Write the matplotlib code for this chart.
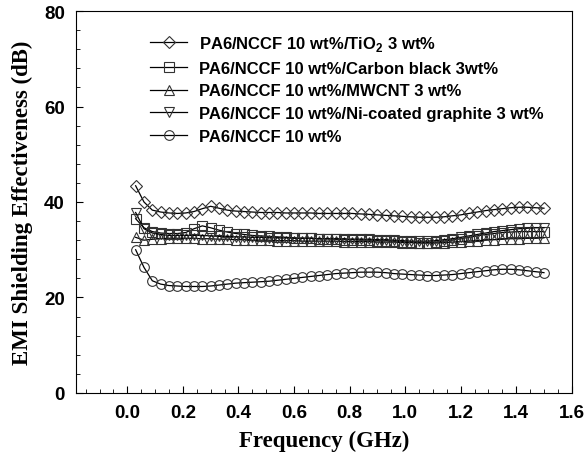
import matplotlib
matplotlib.use("Agg")
import matplotlib.pyplot as plt
from matplotlib.ticker import MultipleLocator

freq = [0.03, 0.06, 0.09, 0.12, 0.15, 0.18, 0.21, 0.24, 0.27, 0.30,
        0.33, 0.36, 0.39, 0.42, 0.45, 0.48, 0.51, 0.54, 0.57, 0.60,
        0.63, 0.66, 0.69, 0.72, 0.75, 0.78, 0.81, 0.84, 0.87, 0.90,
        0.93, 0.96, 0.99, 1.02, 1.05, 1.08, 1.11, 1.14, 1.17, 1.20,
        1.23, 1.26, 1.29, 1.32, 1.35, 1.38, 1.41, 1.44, 1.47, 1.50]

tio2 = [43.4, 40.0, 38.3, 37.9, 37.7, 37.6, 37.7, 38.0, 38.6, 39.1,
        38.7, 38.3, 38.1, 38.0, 37.9, 37.8, 37.8, 37.8, 37.7, 37.7,
        37.7, 37.7, 37.6, 37.6, 37.6, 37.6, 37.6, 37.5, 37.4, 37.3,
        37.2, 37.1, 37.0, 36.9, 36.8, 36.8, 36.8, 36.9, 37.1, 37.3,
        37.6, 37.9, 38.2, 38.4, 38.6, 38.8, 38.9, 38.9, 38.8, 38.7]

carbon = [36.5, 34.6, 33.8, 33.5, 33.4, 33.4, 33.6, 34.4, 35.0, 34.6,
          34.1, 33.7, 33.4, 33.2, 33.0, 32.9, 32.8, 32.7, 32.6, 32.5,
          32.4, 32.4, 32.3, 32.3, 32.2, 32.1, 32.1, 32.0, 32.0, 31.9,
          31.9, 31.8, 31.7, 31.6, 31.5, 31.5, 31.6, 31.8, 32.0, 32.3,
          32.6, 32.9, 33.2, 33.4, 33.6, 33.7, 33.8, 33.8, 33.8, 33.8]

mwcnt = [32.6, 32.0, 32.2, 32.3, 32.4, 32.4, 32.4, 32.4, 32.3, 32.3,
         32.2, 32.2, 32.1, 32.1, 32.0, 32.0, 32.0, 31.9, 31.9, 31.9,
         31.8, 31.8, 31.8, 31.8, 31.8, 31.7, 31.7, 31.7, 31.7, 31.6,
         31.6, 31.6, 31.5, 31.5, 31.4, 31.4, 31.4, 31.5, 31.6, 31.7,
         31.8, 31.9, 32.0, 32.1, 32.2, 32.3, 32.3, 32.4, 32.4, 32.5]

ni_graphite = [37.8, 34.4, 33.5, 33.2, 33.0, 33.0, 33.0, 33.0, 33.0, 32.9,
               32.8, 32.8, 32.7, 32.7, 32.6, 32.6, 32.5, 32.5, 32.5, 32.4,
               32.4, 32.4, 32.3, 32.3, 32.3, 32.3, 32.2, 32.2, 32.2, 32.1,
               32.1, 32.0, 31.9, 31.8, 31.8, 31.8, 31.9, 32.1, 32.3, 32.6,
               32.9, 33.2, 33.5, 33.8, 34.0, 34.2, 34.4, 34.5, 34.6, 34.6]

nccf = [30.0, 26.3, 23.5, 22.8, 22.5, 22.4, 22.3, 22.3, 22.3, 22.4,
        22.6, 22.8, 23.0, 23.1, 23.2, 23.3, 23.4, 23.6, 23.8, 24.0,
        24.2, 24.4, 24.6, 24.8, 25.0, 25.1, 25.2, 25.3, 25.3, 25.3,
        25.2, 25.0, 24.9, 24.8, 24.7, 24.6, 24.6, 24.7, 24.8, 25.0,
        25.2, 25.4, 25.6, 25.8, 25.9, 25.9, 25.8, 25.6, 25.4, 25.2]

labels = ["PA6/NCCF 10 wt%/TiO$_\\mathregular{2}$ 3 wt%",
          "PA6/NCCF 10 wt%/Carbon black 3wt%",
          "PA6/NCCF 10 wt%/MWCNT 3 wt%",
          "PA6/NCCF 10 wt%/Ni-coated graphite 3 wt%",
          "PA6/NCCF 10 wt%"]

plt.rcParams['mathtext.fontset'] = 'custom'
plt.rcParams['mathtext.rm'] = 'Liberation Sans:bold'

fig = plt.figure(figsize=[5.84, 4.64], dpi=100)
ax = fig.add_axes([0.130, 0.151, 0.849, 0.823])

series = [tio2, carbon, mwcnt, ni_graphite, nccf]
markers = ["D", "s", "^", "v", "o"]
sizes = [6, 7, 7, 7, 7]
for vals, mk, ms, lab in zip(series, markers, sizes, labels):
    ax.plot(freq, vals, color="black", lw=0.9, marker=mk, ms=ms,
            mfc="none", mec="#333333", mew=0.8, label=lab)

ax.set_xlim(-0.185, 1.6)
ax.set_ylim(0, 80)
ax.xaxis.set_major_locator(MultipleLocator(0.2))
ax.xaxis.set_minor_locator(MultipleLocator(0.05))
ax.yaxis.set_major_locator(MultipleLocator(20))
ax.yaxis.set_minor_locator(MultipleLocator(4))
ax.set_xticks([0.0, 0.2, 0.4, 0.6, 0.8, 1.0, 1.2, 1.4, 1.6])
ax.tick_params(which="both", direction="in", top=False, right=False)
ax.tick_params(which="major", length=5, pad=8)
ax.tick_params(which="minor", length=3)
for t in ax.get_xticklabels() + ax.get_yticklabels():
    t.set_family("Liberation Sans")
    t.set_fontweight("bold")
    t.set_fontsize(13.5)

ax.set_xlabel("Frequency (GHz)", family="Liberation Serif", fontweight="bold",
              fontsize=16.5, labelpad=6)
ax.set_ylabel("EMI Shielding Effectiveness (dB)", family="Liberation Serif",
              fontweight="bold", fontsize=16.5, labelpad=8)

ax.legend(loc="upper left", bbox_to_anchor=(0.12, 0.98), frameon=False,
          handlelength=2.2, handletextpad=0.7, labelspacing=0.47,
          prop={"family": "Liberation Sans", "weight": "bold", "size": 12})

fig.savefig("out.png", dpi=100)
